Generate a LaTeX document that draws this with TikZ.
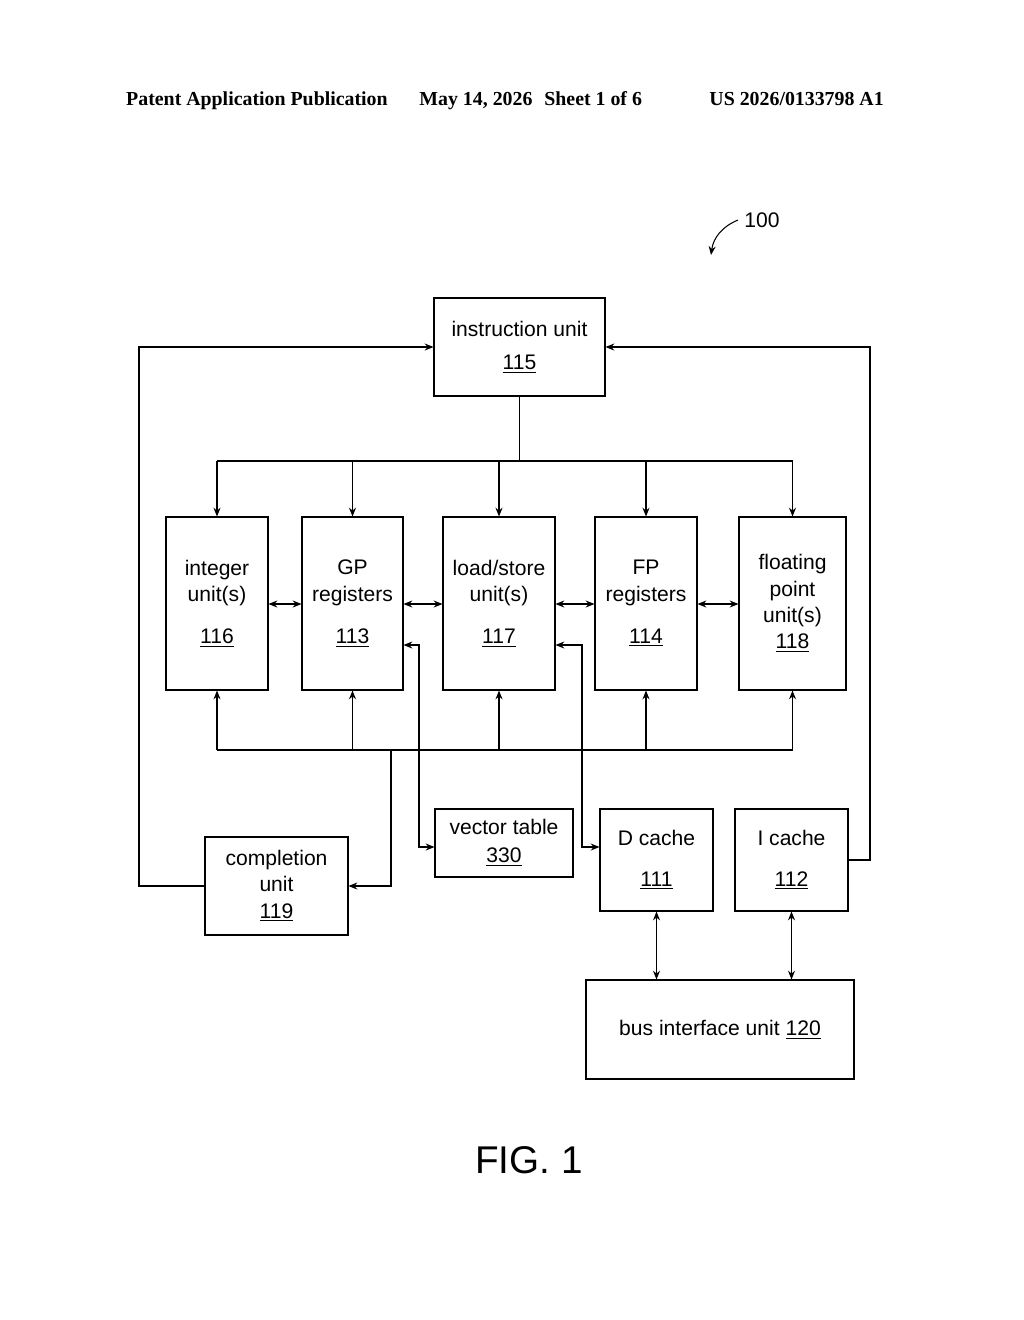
\documentclass[tikz,border=0pt]{standalone}
\usepackage{fontspec}
\setmainfont{Liberation Sans}
\newfontfamily\hdrfont{Liberation Serif}
\usetikzlibrary{positioning, calc, arrows.meta}
\tikzset{
	arrow/.style={line width=0.6pt, -{Stealth[length=5pt, width=4pt]}},
	darrow/.style={line width=0.6pt, {Stealth[length=5pt, width=4pt]}-{Stealth[length=5pt, width=4pt]}},
	block/.style={draw, line width=0.6pt, align=center, font=\fontsize{12}{15}\selectfont, inner sep=0pt},
}
\newcommand{\refnum}[1]{\underline{#1}}
\begin{document}
\begin{tikzpicture}[x=0.02cm, y=-0.02cm, line width=0.6pt]
		\fill[white] (0,0) rectangle (1024,1320);
		% header
		\node[font=\hdrfont\bfseries\fontsize{11.3}{12}\selectfont] (hdr) at (505,101) {Patent Application Publication\hspace{1.6em}May 14, 2026\hspace{0.6em}Sheet 1 of 6\hspace{3.4em}US 2026/0133798 A1};
		\node[font=\fontsize{12}{14}\selectfont] (ref) at (762,220) {100};
		\coordinate (refend) at (711,255);
		\draw[arrow] (ref.west) to[bend right=30] (refend);

		% blocks
		\node[block, minimum width=171*0.02cm, minimum height=98*0.02cm] (IU) at (519.5,347) {instruction unit\\[4pt]\refnum{115}};
		\node[block, minimum width=102*0.02cm, minimum height=173*0.02cm] (INT) at (217,603.5) {integer\\unit(s)\\[9pt]\refnum{116}};
		\node[block, minimum width=101*0.02cm, minimum height=173*0.02cm] (GP) at (352.5,603.5) {GP\\registers\\[9pt]\refnum{113}};
		\node[block, minimum width=112*0.02cm, minimum height=173*0.02cm] (LS) at (499,603.5) {load/store\\unit(s)\\[9pt]\refnum{117}};
		\node[block, minimum width=102*0.02cm, minimum height=173*0.02cm] (FPR) at (646,603.5) {FP\\registers\\[9pt]\refnum{114}};
		\node[block, minimum width=107*0.02cm, minimum height=173*0.02cm] (FPU) at (792.5,603.5) {floating\\point\\unit(s)\\\refnum{118}};
		\node[block, minimum width=138*0.02cm, minimum height=68*0.02cm] (VT) at (504,843) {vector table\\[1pt]\refnum{330}};
		\node[block, minimum width=113*0.02cm, minimum height=102*0.02cm] (DC) at (656.5,860) {D cache\\[8pt]\refnum{111}};
		\node[block, minimum width=113*0.02cm, minimum height=102*0.02cm] (IC) at (791.5,860) {I cache\\[8pt]\refnum{112}};
		\node[block, minimum width=143*0.02cm, minimum height=98*0.02cm] (CU) at (276.5,886) {completion\\unit\\\refnum{119}};
		\node[block, minimum width=268*0.02cm, minimum height=99*0.02cm] (BIU) at (720,1029.5) {bus interface unit \refnum{120}};
		\node[font=\fontsize{22}{26}\selectfont] (fig) at (529,1160) {FIG. 1};

		% dispatch from instruction unit
		\coordinate (split) at (519.5,461);
		\draw (IU.south) -- (split);
		\draw (INT.north |- split) -- (FPU.north |- split);
		\foreach \b in {INT, GP, LS, FPR, FPU}
			\draw[arrow] (\b.north |- split) -- (\b.north);

		% result bus
		\coordinate (bus) at (391,750);
		\draw (INT.south |- bus) -- (FPU.south |- bus);
		\foreach \b in {INT, GP, LS, FPR, FPU}
			\draw[arrow] (\b.south |- bus) -- (\b.south);
		\draw[arrow] (bus) |- (CU.east);

		% completion and I cache feedback
		\draw[arrow] (CU.west) -| (139,347) -- (IU.west);
		\draw[arrow] (IC.east) -| (870,347) -- (IU.east);

		% register exchanges
		\draw[darrow] (INT.east |- 0,604) -- (GP.west |- 0,604);
		\draw[darrow] (GP.east |- 0,604) -- (LS.west |- 0,604);
		\draw[darrow] (LS.east |- 0,604) -- (FPR.west |- 0,604);
		\draw[darrow] (FPR.east |- 0,604) -- (FPU.west |- 0,604);

		% vector table and D cache
		\draw[darrow] (GP.east |- 0,645) -| (419,847) -- (VT.west |- 0,847);
		\draw[darrow] (LS.east |- 0,645) -| (582,847) -- (DC.west |- 0,847);

		% caches to bus interface
		\draw[darrow] (DC.south) -- (DC.south |- BIU.north);
		\draw[darrow] (IC.south) -- (IC.south |- BIU.north);
	\end{tikzpicture}
\end{document}
